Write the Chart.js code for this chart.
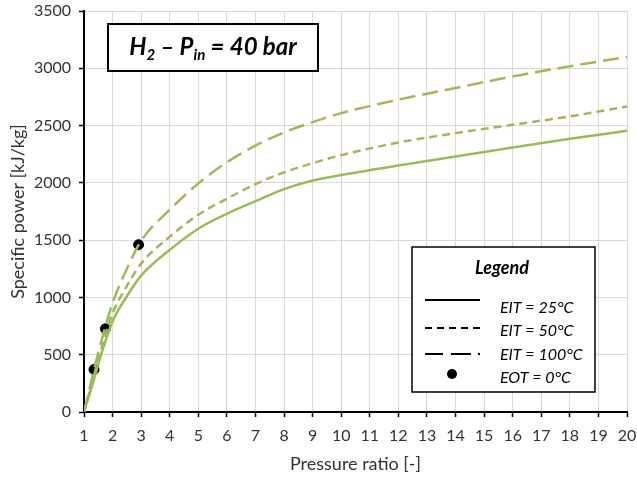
<!DOCTYPE html>
<html>
<head>
<meta charset="utf-8">
<script src="https://cdn.jsdelivr.net/npm/chart.js@4.4.1/dist/chart.umd.min.js"></script>
<style>
  html, body { margin: 0; padding: 0; background: #fff; }
  #wrap { width: 637px; height: 478px; }
</style>
</head>
<body>
<div id="wrap"><canvas id="chart" width="637" height="478"></canvas></div>
<script>
// pressure ratio points where the curves were read
const pressureRatio = [1, 1.35, 1.5, 2, 2.5, 3, 4, 5, 6, 7, 8, 9, 10, 12, 14, 16, 18, 20];
const eit25 = [0, 285, 420, 790, 1010, 1190, 1415, 1600, 1730, 1840, 1945, 2020, 2068, 2151, 2230, 2309, 2385, 2454];
const eit50 = [0, 320, 460, 860, 1100, 1295, 1530, 1722, 1862, 1988, 2092, 2172, 2242, 2352, 2434, 2507, 2580, 2667];
const eit100 = [0, 370, 520, 950, 1250, 1495, 1765, 1995, 2180, 2325, 2440, 2530, 2609, 2726, 2828, 2929, 3017, 3099];
const eotRatio = [1.35, 1.75, 2.91];
const eotPower = [371, 726, 1460];

const seriesLabels = ['EIT = 25°C', 'EIT = 50°C', 'EIT = 100°C', 'EOT = 0°C'];
const chartTitle = ['H', '2', ' – P', 'in', ' = 40 bar'];

const green = '#9bbb59';
const textColor = '#333333';

function toPoints(xs, ys) {
  return xs.map((x, i) => ({ x: x, y: ys[i] }));
}

const boxesPlugin = {
  id: 'boxes',
  afterDraw(chart) {
    const ctx = chart.ctx;
    const a = chart.chartArea;
    ctx.save();

    // title box
    const tx = a.left + 24, ty = a.top + 13, tw = 210, th = 47;
    ctx.fillStyle = '#fff';
    ctx.fillRect(tx, ty, tw, th);
    ctx.strokeStyle = '#000';
    ctx.lineWidth = 2;
    ctx.strokeRect(tx, ty, tw, th);

    const big = 'italic bold 24px Lato';
    const small = 'italic bold 15px Lato';
    let total = 0;
    chartTitle.forEach((t, i) => {
      ctx.font = i % 2 ? small : big;
      total += ctx.measureText(t).width;
    });
    let cx = tx + tw / 2 - total / 2;
    const baseY = ty + th / 2 + 7;
    ctx.fillStyle = '#000';
    ctx.textBaseline = 'alphabetic';
    ctx.textAlign = 'left';
    chartTitle.forEach((t, i) => {
      ctx.font = i % 2 ? small : big;
      ctx.fillText(t, cx, baseY + (i % 2 ? 5 : 0));
      cx += ctx.measureText(t).width;
    });

    // legend box
    const lx = a.left + 328, ly = a.top + 236, lw = 183, lh = 145;
    ctx.fillStyle = '#fff';
    ctx.fillRect(lx, ly, lw, lh);
    ctx.lineWidth = 1.5;
    ctx.strokeRect(lx, ly, lw, lh);

    ctx.fillStyle = '#000';
    ctx.font = 'italic bold 18px Lato';
    ctx.textAlign = 'center';
    ctx.textBaseline = 'middle';
    ctx.fillText('Legend', lx + 90, ly + 21);

    const dashes = [[], [7, 5], [18, 8, 20, 7, 2, 100]];
    const rows = [53, 81, 107, 127];
    const labelRows = [61, 84, 108, 131];
    ctx.lineWidth = 2;
    for (let i = 0; i < 3; i++) {
      ctx.setLineDash(dashes[i]);
      ctx.beginPath();
      ctx.moveTo(lx + 13, ly + rows[i]);
      ctx.lineTo(lx + 68, ly + rows[i]);
      ctx.stroke();
    }
    ctx.setLineDash([]);
    ctx.beginPath();
    ctx.arc(lx + 40, ly + rows[3], 5, 0, Math.PI * 2);
    ctx.fill();

    ctx.font = 'italic 16px Lato';
    ctx.textAlign = 'left';
    seriesLabels.forEach((s, i) => {
      ctx.fillText(s, lx + 88, ly + labelRows[i]);
    });
    ctx.restore();
  }
};

new Chart(document.getElementById('chart'), {
  type: 'line',
  data: {
    datasets: [
      {
        label: seriesLabels[0],
        data: toPoints(pressureRatio, eit25),
        borderColor: green,
        borderWidth: 2.5,
        pointRadius: 0,
        cubicInterpolationMode: 'monotone'
      },
      {
        label: seriesLabels[1],
        data: toPoints(pressureRatio, eit50),
        borderColor: green,
        borderWidth: 2.5,
        borderDash: [8, 5],
        pointRadius: 0,
        cubicInterpolationMode: 'monotone'
      },
      {
        label: seriesLabels[2],
        data: toPoints(pressureRatio, eit100),
        borderColor: green,
        borderWidth: 2.5,
        borderDash: [16, 7],
        pointRadius: 0,
        cubicInterpolationMode: 'monotone'
      },
      {
        label: seriesLabels[3],
        data: toPoints(eotRatio, eotPower),
        showLine: false,
        pointRadius: 5,
        pointBackgroundColor: '#000',
        pointBorderColor: '#000',
        borderColor: '#000'
      }
    ]
  },
  options: {
    responsive: false,
    animation: false,
    layout: { padding: 0 },
    plugins: {
      legend: { display: false },
      tooltip: { enabled: false }
    },
    scales: {
      x: {
        type: 'linear',
        min: 1,
        max: 20,
        afterFit: (s) => { s.height = 66; s.paddingRight = 10; s.paddingLeft = 0; },
        ticks: { stepSize: 1, color: textColor, font: { family: 'Lato', size: 16 }, padding: 9, maxRotation: 0 },
        grid: { color: '#d9d9d9', tickColor: '#000', tickLength: 5, tickWidth: 1.5 },
        border: { color: '#000', width: 2 },
        title: { display: true, text: 'Pressure ratio [-]', color: textColor, font: { family: 'Lato', size: 18 }, padding: { bottom: 3 } }
      },
      y: {
        min: 0,
        max: 3500,
        afterFit: (s) => { s.width = 84; s.paddingTop = 11; s.paddingBottom = 0; },
        ticks: { stepSize: 500, color: textColor, font: { family: 'Lato', size: 16 }, padding: 8, callback: (v) => String(v) },
        grid: { color: '#d9d9d9', tickColor: '#000', tickLength: 5, tickWidth: 1.5 },
        border: { color: '#000', width: 2 },
        title: { display: true, text: 'Specific power [kJ/kg]', color: textColor, font: { family: 'Lato', size: 18 }, padding: { top: 7 } }
      }
    }
  },
  plugins: [boxesPlugin]
});
</script>
</body>
</html>
